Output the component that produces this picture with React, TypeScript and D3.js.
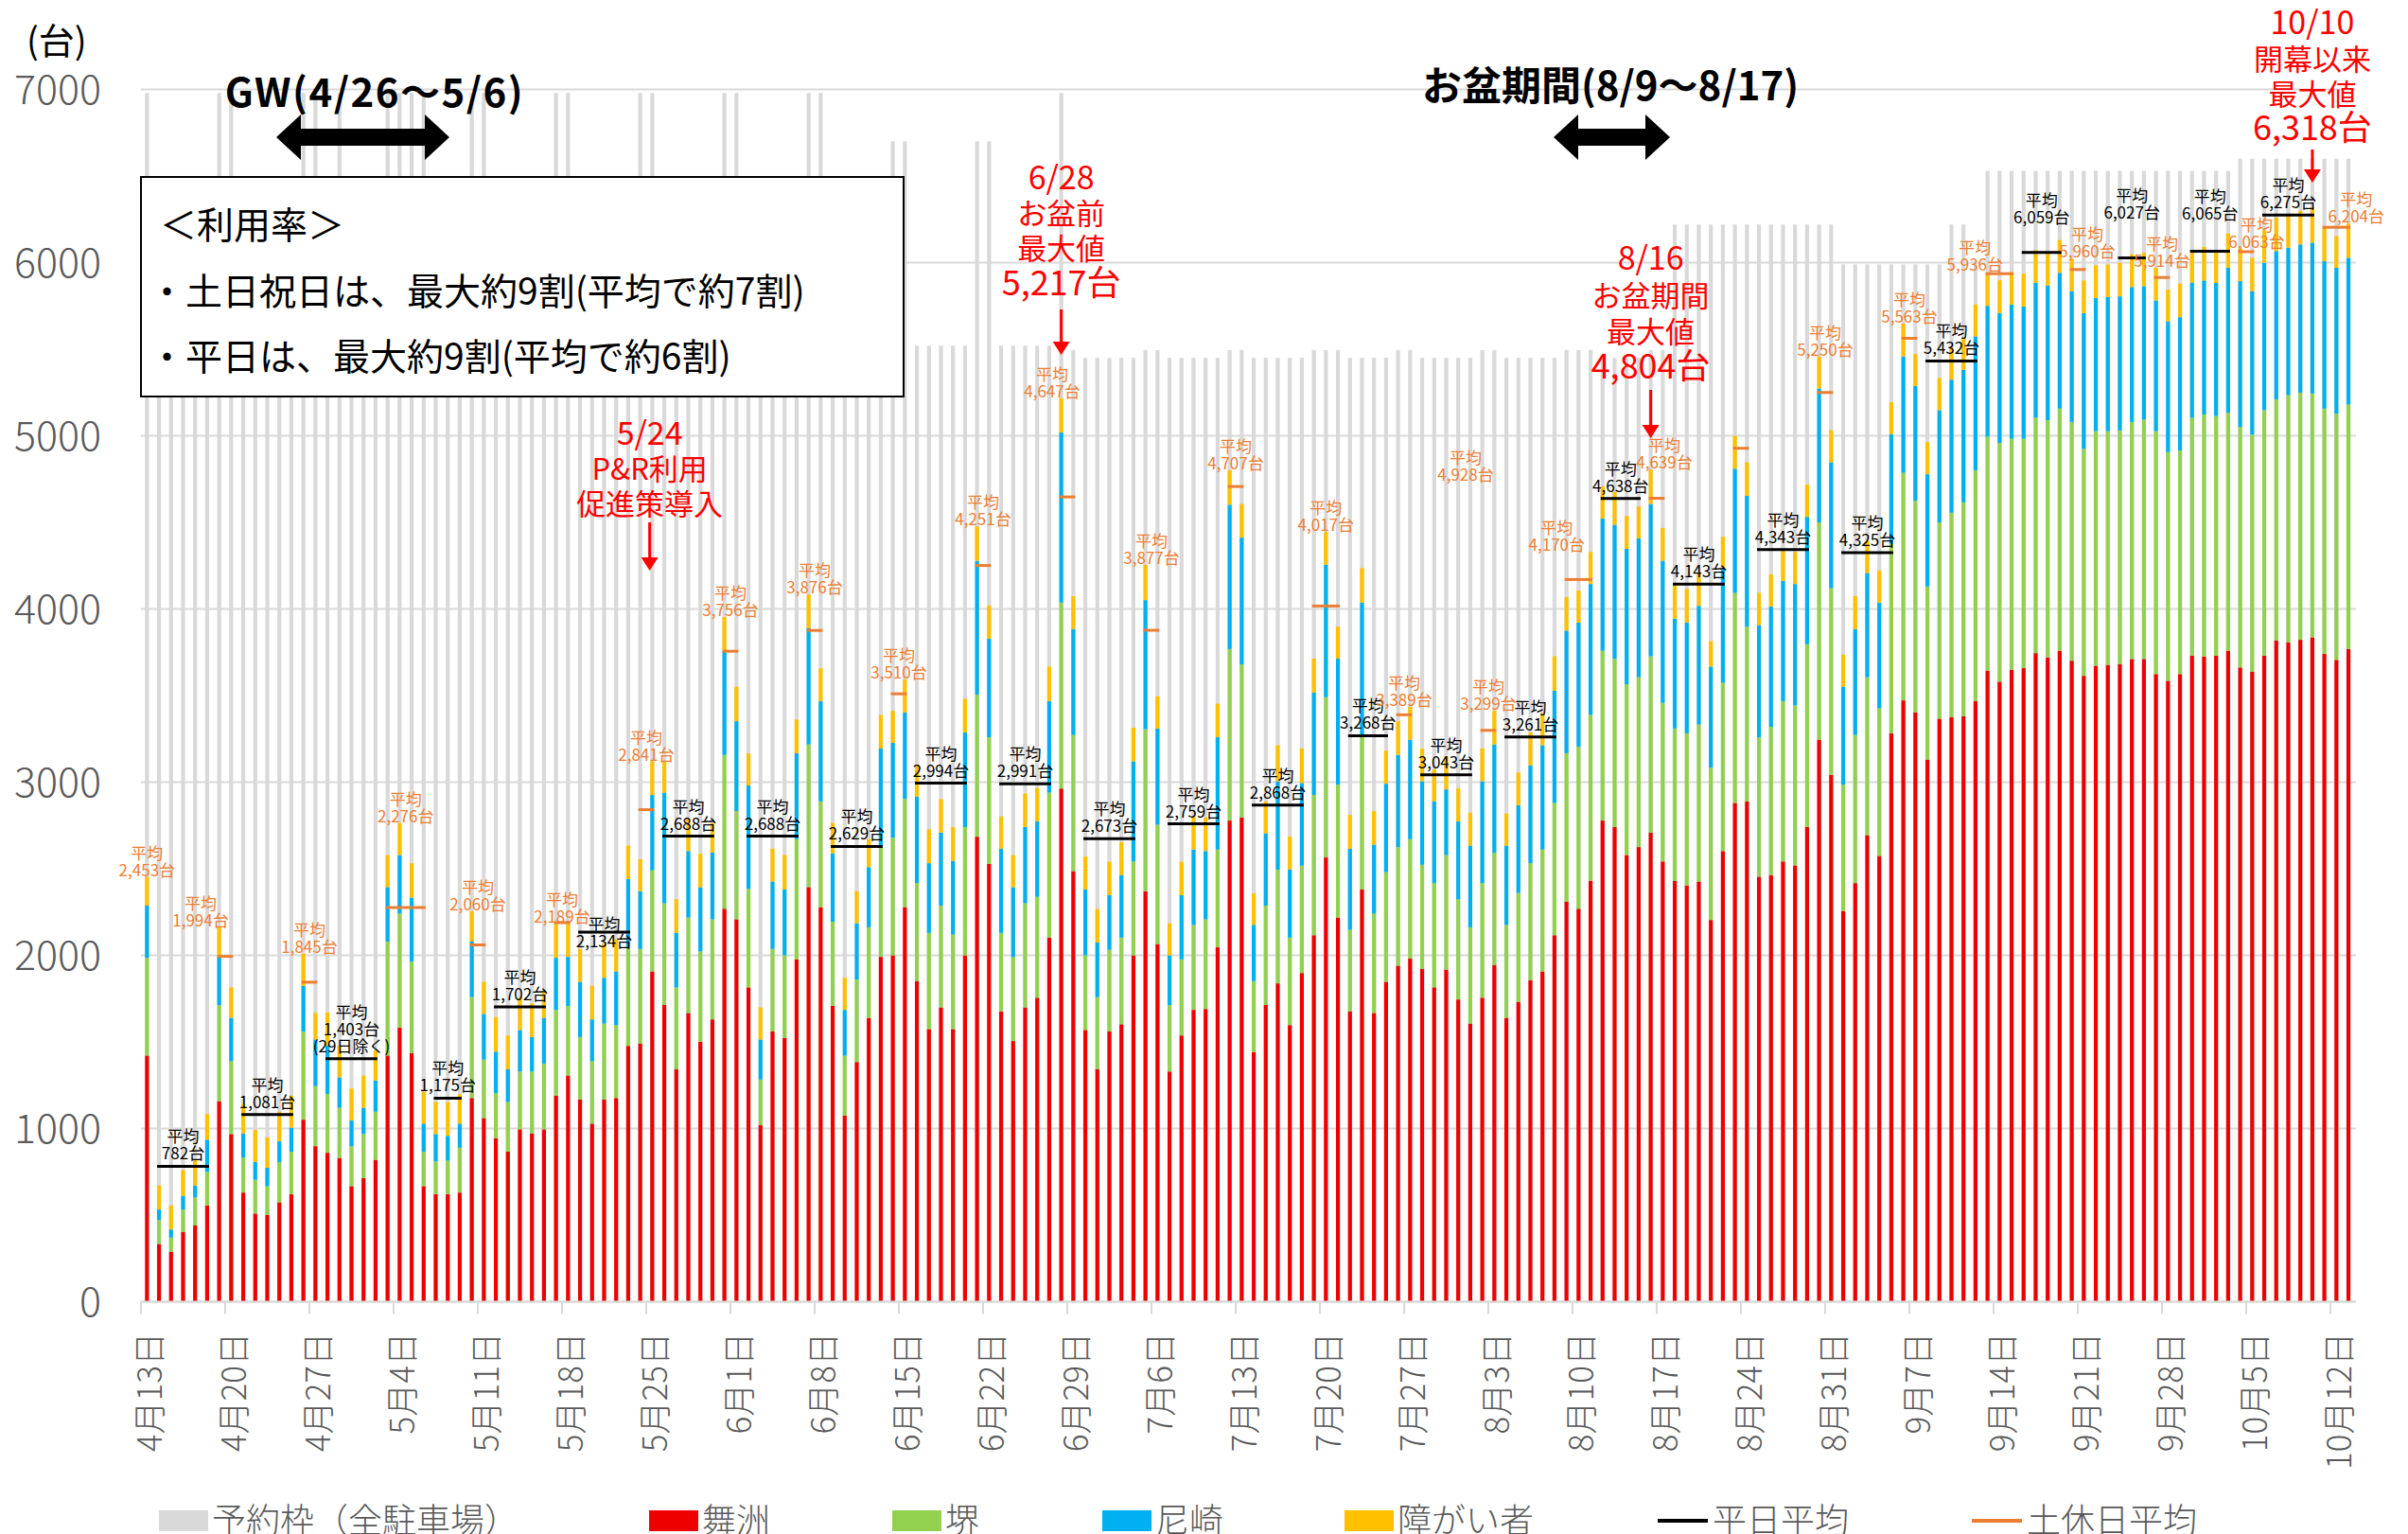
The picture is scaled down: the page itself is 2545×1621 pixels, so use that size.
import * as d3 from 'd3'

const FONT = "'Noto Sans CJK JP', 'Noto Sans', sans-serif"
const START = new Date(2025, 3, 13)

// daily counts, one row per week starting Sunday 4/13
const maishima = [
  1421, 333, 287, 403, 440, 556, 1157,
  968, 630, 509, 500, 574, 620, 1051,
  898, 860, 830, 667, 713, 819, 1421,
  1583, 1435, 667, 620, 620, 630, 1176,
  1060, 944, 866, 995, 972, 995, 1190,
  1306, 1167, 1028, 1167, 1176, 1477, 1491,
  1907, 1713, 1343, 1667, 1500, 1630, 2269,
  2208, 1815, 1019, 1560, 1523, 1977, 2394,
  2278, 1708, 1074, 1384, 1639, 1991, 2000,
  2278, 1852, 1574, 1699, 1574, 2000, 2685,
  2528, 1676, 1505, 1699, 1755, 2102, 2963,
  2486, 1569, 1343, 1560, 1602, 2000, 2370,
  2065, 1329, 1537, 1685, 1690, 2046, 2778,
  2796, 1440, 1713, 1838, 1597, 1898, 2116,
  2565, 2218, 1676, 2380, 1667, 1847, 1940,
  1981, 1921, 1815, 1917, 1745, 1606, 1755,
  1944, 1639, 1731, 1856, 1907, 2116, 2310,
  2269, 2431, 2778, 2741, 2579, 2625, 2708,
  2542, 2431, 2403, 2426, 2204, 2602, 2880,
  2889, 2454, 2463, 2542, 2519, 2741, 3245,
  3042, 2255, 2417, 2694, 2574, 3282, 3472,
  3403, 3130, 3366, 3375, 3380, 3468, 3644,
  3580, 3648, 3658, 3745, 3720, 3759, 3701,
  3614, 3672, 3677, 3682, 3711, 3711, 3624,
  3585, 3624, 3730, 3725, 3730, 3759, 3662,
  3638, 3730, 3817, 3807, 3822, 3836, 3740,
  3706, 3769,
]

const sakai = [
  565, 139, 83, 129, 162, 194, 556,
  421, 203, 195, 167, 232, 246, 509,
  347, 340, 290, 231, 255, 278, 658,
  658, 528, 199, 190, 195, 259, 583,
  338, 260, 287, 334, 357, 380, 495,
  402, 361, 361, 439, 421, 569, 546,
  584, 588, 472, 551, 523, 578, 888,
  625, 569, 264, 477, 477, 694, 824,
  611, 486, 347, 477, 523, 634, 680,
  625, 565, 556, 588, 546, 741, 820,
  731, 454, 486, 602, 583, 838, 1074,
  787, 431, 416, 472, 500, 542, 936,
  690, 384, 440, 491, 518, 565, 991,
  884, 412, 574, 657, 505, 620, 810,
  926, 768, 472, 893, 574, 634, 685,
  690, 602, 602, 662, 579, 556, 662,
  649, 537, 630, 676, 704, 764, 857,
  935, 958, 981, 972, 986, 981, 1019,
  916, 879, 879, 907, 879, 972, 1213,
  1009, 805, 856, 926, 925, 1055, 1255,
  1078, 731, 856, 912, 852, 1093, 1315,
  1222, 1000, 1134, 1181, 1236, 1333, 1351,
  1379, 1335, 1325, 1359, 1370, 1398, 1379,
  1311, 1355, 1350, 1349, 1369, 1383, 1403,
  1321, 1291, 1374, 1398, 1384, 1374, 1389,
  1369, 1418, 1393, 1428, 1427, 1408, 1417,
  1422, 1412,
]

const amagasaki = [
  301, 60, 47, 79, 69, 185, 278,
  250, 139, 102, 106, 120, 139, 264,
  269, 280, 175, 148, 152, 181, 315,
  338, 370, 162, 158, 143, 139, 320,
  264, 240, 190, 240, 199, 264, 301,
  283, 319, 241, 264, 310, 394, 333,
  435, 639, 315, 384, 370, 385, 602,
  519, 597, 231, 389, 380, 496, 671,
  579, 394, 264, 324, 347, 569, 547,
  500, 500, 402, 421, 426, 546, 773,
  570, 486, 402, 440, 435, 528, 982,
  611, 380, 315, 315, 361, 578, 745,
  555, 287, 370, 435, 394, 648, 833,
  732, 324, 417, 510, 393, 477, 592,
  764, 727, 468, 764, 398, 510, 532,
  574, 482, 472, 379, 449, 472, 588,
  624, 458, 505, 565, 602, 648, 708,
  717, 755, 764, 773, 782, 801, 879,
  820, 634, 639, 685, 584, 662, 717,
  755, 648, 695, 694, 700, 736, 773,
  727, 565, 611, 602, 611, 634, 671,
  662, 648, 648, 768, 764, 773, 755,
  750, 774, 764, 779, 778, 784, 755,
  783, 769, 774, 774, 779, 770, 754,
  754, 770, 779, 774, 769, 837, 842,
  828, 852, 857, 851, 856, 871, 852,
  842, 847,
]

const shogai = [
  166, 139, 139, 148, 148, 148, 171,
  176, 172, 185, 176, 171, 185, 185,
  153, 190, 185, 185, 186, 170, 185,
  185, 199, 185, 185, 195, 170, 176,
  185, 200, 194, 190, 194, 153, 199,
  194, 190, 194, 199, 185, 194, 185,
  194, 181, 194, 185, 194, 171, 195,
  199, 185, 185, 190, 199, 194, 194,
  189, 176, 185, 185, 162, 194, 185,
  190, 185, 195, 194, 194, 194, 199,
  190, 185, 185, 194, 194, 199, 198,
  190, 190, 194, 194, 190, 194, 204,
  185, 185, 194, 190, 194, 194, 199,
  194, 181, 185, 208, 190, 199, 195,
  189, 185, 194, 199, 194, 190, 195,
  190, 189, 185, 190, 190, 190, 189,
  195, 185, 190, 190, 185, 199, 194,
  185, 185, 185, 190, 190, 186, 198,
  190, 195, 195, 190, 148, 181, 190,
  194, 186, 185, 185, 185, 186, 185,
  185, 185, 190, 185, 185, 185, 190,
  185, 185, 185, 185, 185, 185, 185,
  189, 189, 189, 189, 189, 189, 188,
  189, 188, 188, 194, 189, 193, 189,
  184, 193, 189, 194, 189, 198, 188,
  193, 188, 193, 194, 194, 203, 193,
  184, 198,
]

// 予約枠 (all car parks)
const capacity = [
  6980, 5520, 5520, 5520, 5520, 5520, 6980,
  6980, 5520, 5520, 5520, 5520, 5520, 6980,
  6980, 5520, 6980, 5520, 5520, 5520, 6980,
  6980, 6980, 6980, 5520, 5520, 5520, 6980,
  6980, 5520, 5520, 5520, 5520, 5520, 6980,
  6980, 5520, 5520, 5520, 5520, 5520, 6980,
  6980, 5520, 5520, 5520, 5520, 5520, 6980,
  6980, 5520, 5520, 5520, 5520, 5520, 6980,
  6980, 5520, 5520, 5520, 5520, 5520, 6700,
  6700, 5520, 5520, 5520, 5520, 5520, 6700,
  6700, 5520, 5520, 5520, 5520, 5520, 6980,
  5495, 5450, 5450, 5450, 5450, 5450, 5495,
  5495, 5450, 5450, 5450, 5450, 5450, 5495,
  5495, 5450, 5450, 5450, 5450, 5450, 5495,
  5495, 5495, 5450, 5450, 5450, 5450, 5495,
  5495, 5450, 5450, 5450, 5450, 5450, 5495,
  5495, 5450, 5450, 5450, 5450, 5450, 5495,
  5495, 5495, 5450, 5450, 5450, 5450, 5495,
  5495, 6220, 6220, 6220, 6220, 6220, 6220,
  6220, 6220, 6220, 6220, 6220, 6220, 6220,
  6220, 5990, 5990, 5990, 5990, 5990, 5990,
  5990, 5990, 5990, 6220, 6220, 5990, 6530,
  6530, 6530, 6530, 6530, 6530, 6530, 6530,
  6530, 6530, 6530, 6530, 6530, 6530, 6530,
  6530, 6530, 6530, 6530, 6530, 6530, 6600,
  6600, 6600, 6600, 6600, 6600, 6600, 6600,
  6600, 6600,
]

// [first day, last day, average]
const weekdayAvg: [number, number, number][] = [
  [1, 5, 782], [8, 12, 1081], [15, 19, 1403], [24, 26, 1175], [29, 33, 1702],
  [36, 40, 2134], [43, 47, 2688], [50, 54, 2688], [57, 61, 2629], [64, 68, 2994],
  [71, 75, 2991], [78, 82, 2673], [85, 89, 2759], [92, 96, 2868], [100, 103, 3268],
  [106, 110, 3043], [113, 117, 3261], [121, 124, 4638], [127, 131, 4143], [134, 138, 4343],
  [141, 145, 4325], [148, 152, 5432], [156, 159, 6059], [164, 166, 6027], [170, 173, 6065],
  [176, 180, 6275],
]

const holidayAvg: [number, number, number][] = [
  [0, 0, 2453], [6, 7, 1994], [13, 14, 1845], [20, 23, 2276], [27, 28, 2060],
  [34, 35, 2189], [41, 42, 2841], [48, 49, 3756], [55, 56, 3876], [62, 63, 3510],
  [69, 70, 4251], [76, 77, 4647], [83, 84, 3877], [90, 91, 4707], [97, 99, 4017],
  [104, 105, 3389], [111, 112, 3299], [118, 120, 4170], [125, 126, 4639], [132, 133, 4928],
  [139, 140, 5250], [146, 147, 5563], [153, 155, 5936], [160, 161, 5960], [167, 168, 5914],
  [174, 175, 6063], [181, 183, 6204],
]

const yTicks = [0, 1000, 2000, 3000, 4000, 5000, 6000, 7000]
const keys = ['maishima', 'sakai', 'amagasaki', 'shogai']
const colors = ['#EE0000', '#92D050', '#00B0F0', '#FFC000']

// label placement tweaks (px)
const weekdayLabelDy: Record<number, number> = { 5: 23, 22: -24, 23: -35, 24: -27 }
const holidayLabelDx: Record<number, number> = { 1: -26, 11: -16, 17: -23, 18: 8, 22: -26, 23: 10, 25: 11, 26: 21 }
const floatingLabel: Record<number, [number, number]> = { 19: [1549, 508] }

const callouts = [
  { day: 41, dx: 10, lines: ['5/24', 'P&R利用', '促進策導入'], sizes: [34, 31, 31], base: [470, 507, 544], arrow: [552, 603] },
  { day: 76, dx: 0, lines: ['6/28', 'お盆前', '最大値', '5,217台'], sizes: [34, 31, 31, 36], base: [200, 237, 274, 312], arrow: [327, 375] },
  { day: 125, dx: 0, lines: ['8/16', 'お盆期間', '最大値', '4,804台'], sizes: [34, 31, 31, 36], base: [285, 324, 362, 400], arrow: [412, 463] },
  { day: 180, dx: 0, lines: ['10/10', '開幕以来', '最大値', '6,318台'], sizes: [34, 31, 31, 36], base: [36, 74, 111, 148], arrow: [158, 193] },
]

const legend = [
  { label: '予約枠（全駐車場）', color: '#D9D9D9', x: 168, kind: 'rect' },
  { label: '舞洲', color: '#EE0000', x: 686, kind: 'rect' },
  { label: '堺', color: '#92D050', x: 943, kind: 'rect' },
  { label: '尼崎', color: '#00B0F0', x: 1165, kind: 'rect' },
  { label: '障がい者', color: '#FFC000', x: 1421, kind: 'rect' },
  { label: '平日平均', color: '#000000', x: 1752, kind: 'line' },
  { label: '土休日平均', color: '#ED7D31', x: 2084, kind: 'line' },
]

const DoubleArrow = ({ x1, x2, y }: { x1: number; x2: number; y: number }) => {
  const hl = 26, hh = 24, sh = 9
  const pts = [
    [x1, y], [x1 + hl, y - hh], [x1 + hl, y - sh], [x2 - hl, y - sh], [x2 - hl, y - hh],
    [x2, y], [x2 - hl, y + hh], [x2 - hl, y + sh], [x1 + hl, y + sh], [x1 + hl, y + hh],
  ]
  return <polygon points={pts.map((p) => p.join(',')).join(' ')} fill='#000' />
}

export default function App() {
  const W = 2545
  const H = 1621
  const N = maishima.length

  const rows = d3.range(N).map((i) => ({
    maishima: maishima[i], sakai: sakai[i], amagasaki: amagasaki[i], shogai: shogai[i],
  }))
  const totals = rows.map((r) => r.maishima + r.sakai + r.amagasaki + r.shogai)
  const stacked = d3.stack<any>().keys(keys)(rows)

  const x = d3.scaleBand<number>().domain(d3.range(N)).range([149, 2488.4]).paddingInner(0.67).paddingOuter(0.335)
  const y = d3.scaleLinear().domain([0, 7000]).range([1375.5, 94.5])
  const bw = x.bandwidth()
  const cx = (i: number) => (x(i) ?? 0) + bw / 2
  const tickX = (i: number) => (x(i) ?? 0) - x.step() * 0.335
  const fmt = d3.format(',')
  const dayLabel = (i: number) => {
    const d = d3.timeDay.offset(START, i)
    return `${d.getMonth() + 1}月${d.getDate()}日`
  }

  return (
    <svg width={W} height={H} style={{ position: 'absolute', left: 0, top: 0, background: '#fff' }} fontFamily={FONT}>
      {/* grid */}
      {yTicks.map((t) => (
        <line key={t} x1={149} x2={2490} y1={y(t)} y2={y(t)} stroke='#D9D9D9' strokeWidth={2} />
      ))}
      {yTicks.map((t) => (
        <text key={'yl' + t} x={107} y={y(t) - 4} textAnchor='end' dominantBaseline='central' fontSize={43} fontWeight={300} fill='#595959'>
          {t}
        </text>
      ))}
      <text x={28} y={57} fontSize={38} fill='#000'>(台)</text>

      {/* capacity */}
      {capacity.map((c, i) => (
        <rect key={'c' + i} x={x(i)} y={y(c)} width={bw} height={y(0) - y(c)} fill='#D9D9D9' />
      ))}

      {/* stacked usage */}
      {stacked.map((s, k) => (
        <g key={s.key} fill={colors[k]}>
          {s.map((d, i) => (
            <rect key={i} x={x(i)} y={y(d[1])} width={bw} height={Math.max(0, y(d[0]) - y(d[1]))} />
          ))}
        </g>
      ))}

      {/* x axis */}
      <line x1={149} x2={2490} y1={y(0)} y2={y(0)} stroke='#D9D9D9' strokeWidth={2} />
      {d3.range(0, N, 7).map((i) => (
        <g key={'xt' + i}>
          <line x1={tickX(i)} x2={tickX(i)} y1={y(0)} y2={y(0) + 13} stroke='#D9D9D9' strokeWidth={2} />
          <text
            transform={`translate(${cx(i)},1408) rotate(-90)`}
            textAnchor='end'
            dominantBaseline='central'
            fontSize={35}
            fontWeight={300}
            fill='#595959'
          >
            {dayLabel(i)}
          </text>
        </g>
      ))}

      {/* average lines */}
      {weekdayAvg.map(([a, b, v], k) => (
        <line key={'wl' + k} x1={cx(a) - 2} x2={cx(b) + 2} y1={y(v)} y2={y(v)} stroke='#000' strokeWidth={3} />
      ))}
      {holidayAvg.map(([a, b, v], k) =>
        a === b ? null : (
          <line key={'hl' + k} x1={cx(a) - 2} x2={cx(b) + 2} y1={y(v)} y2={y(v)} stroke='#ED7D31' strokeWidth={3} />
        ),
      )}

      {/* average labels */}
      {weekdayAvg.map(([a, b, v], k) => {
        const lines = ['平均', fmt(v) + '台']
        if (k === 2) lines.push('(29日除く)')
        const last = y(v) - 7 + (weekdayLabelDy[k] ?? 0)
        const mx = (cx(a) + cx(b)) / 2
        return (
          <text key={'wt' + k} x={mx} textAnchor='middle' fontSize={17} fill='#000'>
            {lines.map((t, j) => (
              <tspan key={j} x={mx} y={last - (lines.length - 1 - j) * 18}>
                {t}
              </tspan>
            ))}
          </text>
        )
      })}
      {holidayAvg.map(([a, b, v], k) => {
        const top = d3.max(d3.range(a, b + 1), (i) => totals[i]) ?? v
        let mx = (cx(a) + cx(b)) / 2 + (holidayLabelDx[k] ?? 0)
        let last = y(top) - 1
        if (floatingLabel[k]) [mx, last] = floatingLabel[k]
        return (
          <text key={'ht' + k} textAnchor='middle' fontSize={17} fill='#ED7D31'>
            <tspan x={mx} y={last - 18}>平均</tspan>
            <tspan x={mx} y={last}>{fmt(v)}台</tspan>
          </text>
        )
      })}

      {/* utilisation box */}
      <rect x={149} y={187} width={806} height={232} fill='#fff' stroke='#000' strokeWidth={2} />
      <text fontSize={39} fill='#000'>
        <tspan x={169} y={252}>＜利用率＞</tspan>
        <tspan x={157} y={322}>・土日祝日は、最大約9割(平均で約7割)</tspan>
        <tspan x={157} y={391}>・平日は、最大約9割(平均で約6割)</tspan>
      </text>

      {/* period markers */}
      <text x={396} y={113} textAnchor='middle' fontSize={42} fontWeight={700} letterSpacing={1.5}>GW(4/26～5/6)</text>
      <DoubleArrow x1={292} x2={475} y={145} />
      <text x={1702} y={106} textAnchor='middle' fontSize={42} fontWeight={700}>お盆期間(8/9～8/17)</text>
      <DoubleArrow x1={1642} x2={1765} y={145} />

      {/* red callouts */}
      {callouts.map((c, k) => {
        const ax = cx(c.day) + c.dx
        const [y1, y2] = c.arrow
        return (
          <g key={'co' + k} fill='#FF0000'>
            <text textAnchor='middle'>
              {c.lines.map((t, j) => (
                <tspan key={j} x={ax} y={c.base[j]} fontSize={c.sizes[j]}>
                  {t}
                </tspan>
              ))}
            </text>
            <line x1={ax} x2={ax} y1={y1} y2={y2 - 12} stroke='#FF0000' strokeWidth={3} />
            <polygon points={`${ax - 9},${y2 - 14} ${ax + 9},${y2 - 14} ${ax},${y2}`} />
          </g>
        )
      })}

      {/* legend */}
      {legend.map((l) => (
        <g key={l.label}>
          {l.kind === 'rect' ? (
            <rect x={l.x} y={1596} width={52} height={22} fill={l.color} />
          ) : (
            <line x1={l.x} x2={l.x + 53} y1={1607} y2={1607} stroke={l.color} strokeWidth={4} />
          )}
          <text x={l.x + (l.kind === 'rect' ? 56 : 58)} y={1620} fontSize={36} fontWeight={300} fill='#595959'>
            {l.label}
          </text>
        </g>
      ))}
    </svg>
  )
}
